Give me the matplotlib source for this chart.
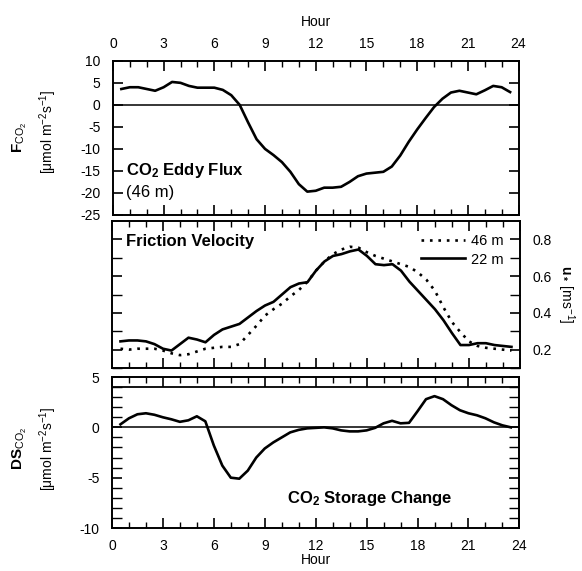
import matplotlib
matplotlib.use('Agg')
import matplotlib.pyplot as plt
import matplotlib.ticker as ticker
import numpy as np

plt.rcParams['font.family'] = ['Liberation Sans', 'DejaVu Sans']
plt.rcParams['mathtext.fontset'] = 'custom'
plt.rcParams['mathtext.rm'] = 'Liberation Sans'
plt.rcParams['mathtext.it'] = 'Liberation Sans:italic'
plt.rcParams['mathtext.bf'] = 'Liberation Sans:bold'
plt.rcParams['axes.unicode_minus'] = False

hour = [0.5, 1.0, 1.5, 2.0, 2.5, 3.0, 3.5, 4.0, 4.5, 5.0, 5.5, 6.0, 6.5, 7.0, 7.5, 8.0,
        8.5, 9.0, 9.5, 10.0, 10.5, 11.0, 11.5, 12.0, 12.5, 13.0, 13.5, 14.0, 14.5, 15.0,
        15.5, 16.0, 16.5, 17.0, 17.5, 18.0, 18.5, 19.0, 19.5, 20.0, 20.5, 21.0, 21.5,
        22.0, 22.5, 23.0, 23.5]

# CO2 eddy flux at 46 m
flux = [3.6, 4.0, 4.0, 3.6, 3.2, 4.0, 5.2, 5.0, 4.3, 3.9, 3.9, 3.9, 3.4, 2.2, 0.0, -4.0,
        -7.8, -10.0, -11.4, -13.0, -15.2, -18.0, -19.7, -19.5, -18.8, -18.8, -18.6, -17.5,
        -16.2, -15.6, -15.4, -15.2, -14.0, -11.5, -8.4, -5.6, -3.0, -0.5, 1.4, 2.8, 3.2,
        2.8, 2.4, 3.3, 4.3, 4.0, 2.9]

# friction velocity
ustar46 = [0.205, 0.20, 0.205, 0.205, 0.205, 0.195, 0.18, 0.17, 0.175, 0.19, 0.205, 0.21,
           0.215, 0.215, 0.23, 0.28, 0.33, 0.385, 0.42, 0.45, 0.49, 0.525, 0.57, 0.63, 0.68,
           0.72, 0.745, 0.76, 0.755, 0.73, 0.71, 0.695, 0.68, 0.665, 0.65, 0.62, 0.58, 0.52,
           0.43, 0.35, 0.295, 0.245, 0.22, 0.21, 0.205, 0.20, 0.195]
ustar22 = [0.245, 0.25, 0.25, 0.245, 0.23, 0.205, 0.195, 0.23, 0.265, 0.255, 0.24, 0.28,
           0.31, 0.325, 0.34, 0.375, 0.41, 0.44, 0.46, 0.50, 0.54, 0.56, 0.567, 0.63, 0.68,
           0.71, 0.72, 0.735, 0.745, 0.71, 0.665, 0.66, 0.665, 0.63, 0.57, 0.52, 0.47, 0.42,
           0.36, 0.29, 0.225, 0.225, 0.235, 0.235, 0.225, 0.22, 0.215]

# CO2 storage change
storage = [0.3, 0.9, 1.3, 1.4, 1.25, 1.0, 0.8, 0.55, 0.7, 1.1, 0.6, -1.8, -3.8, -5.0, -5.1,
           -4.3, -3.0, -2.1, -1.5, -1.0, -0.5, -0.25, -0.1, -0.05, 0.0, -0.1, -0.3, -0.4,
           -0.4, -0.3, -0.05, 0.4, 0.65, 0.4, 0.45, 1.6, 2.8, 3.1, 2.8, 2.2, 1.7, 1.4, 1.2,
           0.9, 0.5, 0.2, 0.0]

hour_ticks = [0, 3, 6, 9, 12, 15, 18, 21, 24]

fig = plt.figure(figsize=(5.82, 5.71), dpi=100)
ax1 = fig.add_axes([0.194, 0.6235, 0.697, 0.270])
ax2 = fig.add_axes([0.1924, 0.3555, 0.701, 0.2574])
ax3 = fig.add_axes([0.1924, 0.0753, 0.700, 0.2644])

lw = 1.9
for ax in (ax1, ax2, ax3):
    ax.set_xlim(0, 24)
    ax.xaxis.set_ticks(hour_ticks)
    ax.xaxis.set_minor_locator(ticker.MultipleLocator(1))
    for s in ax.spines.values():
        s.set_linewidth(1.4)
    ax.tick_params(axis='both', which='major', direction='in', length=7, width=1.2,
                   top=True, bottom=True, left=True, right=True, labelsize=10)
    ax.tick_params(axis='x', which='minor', direction='in', length=4, width=1.0,
                   top=True, bottom=True)
    ax.tick_params(axis='y', which='minor', direction='in', length=7, width=1.0,
                   left=True, right=True)
    ax.tick_params(axis='y', which='major', pad=9)

# top panel
ax1.plot(hour, flux, color='black', lw=lw, solid_joinstyle='round')
ax1.axhline(0, color='black', lw=1.1)
ax1.set_ylim(-25, 10)
ax1.yaxis.set_ticks(np.arange(-25, 11, 5))
ax1.tick_params(axis='x', which='major', labelbottom=False, labeltop=True, pad=7)
ax1.xaxis.set_label_position('top')
ax1.set_xlabel('Hour', fontsize=10, labelpad=8)
ax1.text(0.8, -15, 'CO$_\\mathbf{2}$ Eddy Flux', fontsize=12, fontweight='bold', va='center')
ax1.text(0.8, -20, '(46 m)', fontsize=12, va='center')

# middle panel
ax2.plot(hour, ustar46, color='black', lw=lw, linestyle=(0, (1, 2.2)), label='46 m')
ax2.plot(hour, ustar22, color='black', lw=lw, solid_joinstyle='round', label='22 m')
ax2.set_ylim(0.1, 0.9)
ax2.yaxis.set_ticks([0.2, 0.4, 0.6, 0.8])
ax2.yaxis.set_minor_locator(ticker.FixedLocator([0.1, 0.3, 0.5, 0.7]))
ax2.yaxis.set_major_formatter(ticker.FormatStrFormatter('%.1f'))
ax2.tick_params(axis='x', labelbottom=False)
ax2.tick_params(axis='y', labelleft=False, labelright=True, pad=9)
ax2.yaxis.set_label_position('right')
ax2.set_ylabel('$\\mathbf{u_*}$ [ms$^{-1}$]', rotation=270, fontsize=10, labelpad=18)
ax2.text(0.8, 0.79, 'Friction Velocity', fontsize=12, fontweight='bold', va='center')
ax2.legend(loc='upper right', bbox_to_anchor=(0.985, 0.98), frameon=False, fontsize=10.5,
           handlelength=3.0, handletextpad=0.4, labelspacing=0.3, borderpad=0.2)

# bottom panel
ax3.plot(hour, storage, color='black', lw=lw, solid_joinstyle='round')
ax3.axhline(0, color='black', lw=1.1)
ax3.axhline(4, color='black', lw=1.3)
ax3.set_ylim(-10, 5)
ax3.yaxis.set_ticks([-10, -5, 0, 5])
ax3.yaxis.set_minor_locator(ticker.MultipleLocator(1))
ax3.tick_params(axis='y', which='minor', labelleft=False)
ax3.tick_params(axis='x', which='major', pad=8)
ax3.set_xlabel('Hour', fontsize=10, labelpad=0)
ax3.text(10.3, -7.1, 'CO$_\\mathbf{2}$ Storage Change', fontsize=12, fontweight='bold', va='center')

# left axis labels
fig.text(0.035, 0.76, '$\\mathbf{F}_{\\mathrm{CO_2}}$', rotation=90, fontsize=11,
         ha='center', va='center', fontweight='bold')
fig.text(0.083, 0.77, '[$\\mathrm{\\mu}$mol m$^{-2}$s$^{-1}$]', rotation=90, fontsize=10,
         ha='center', va='center')
fig.text(0.035, 0.215, '$\\mathbf{DS}_{\\mathrm{CO_2}}$', rotation=90, fontsize=11,
         ha='center', va='center', fontweight='bold')
fig.text(0.083, 0.215, '[$\\mathrm{\\mu}$mol m$^{-2}$s$^{-1}$]', rotation=90, fontsize=10,
         ha='center', va='center')

plt.savefig('out.png', dpi=100)
